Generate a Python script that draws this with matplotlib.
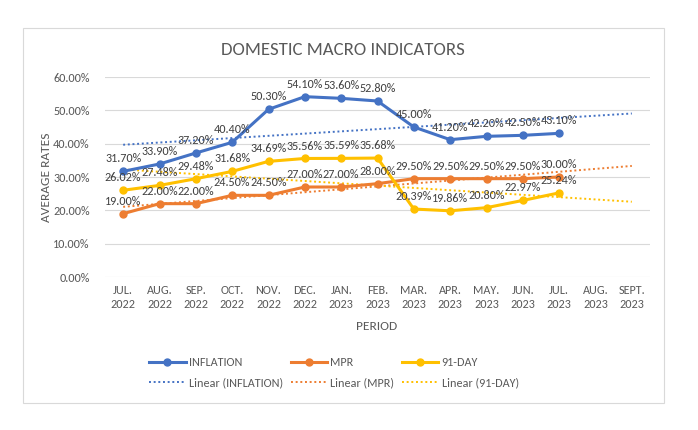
import numpy as np
import matplotlib.pyplot as plt
from matplotlib.lines import Line2D
from matplotlib.patches import Rectangle

plt.rcParams['font.family'] = ['Carlito', 'Liberation Sans', 'DejaVu Sans']

# 数据
periods = ['JUL.\n2022', 'AUG.\n2022', 'SEP.\n2022', 'OCT.\n2022', 'NOV.\n2022',
           'DEC.\n2022', 'JAN.\n2023', 'FEB.\n2023', 'MAR.\n2023', 'APR.\n2023',
           'MAY.\n2023', 'JUN.\n2023', 'JUL.\n2023', 'AUG.\n2023', 'SEPT.\n2023']
inflation = [31.70, 33.90, 37.20, 40.40, 50.30, 54.10, 53.60, 52.80, 45.00, 41.20, 42.20, 42.50, 43.10]
mpr = [19.00, 22.00, 22.00, 24.50, 24.50, 27.00, 27.00, 28.00, 29.50, 29.50, 29.50, 29.50, 30.00]
tbill_91 = [26.02, 27.48, 29.48, 31.68, 34.69, 35.56, 35.59, 35.68, 20.39, 19.86, 20.80, 22.97, 25.24]

series = [('INFLATION', inflation, '#4472C4'),
          ('MPR', mpr, '#ED7D31'),
          ('91-DAY', tbill_91, '#FFC000')]

W, H = 698, 430
fig = plt.figure(figsize=(W / 100, H / 100), dpi=100)

# 图表边框
fig.patches.append(Rectangle((23 / W, 1 - 403 / H), 641 / W, 375 / H, transform=fig.transFigure,
                             fill=False, edgecolor='#D9D9D9', lw=0.8))

ax = fig.add_axes([105 / W, 1 - 277 / H, 545 / W, 200 / H])

x_all = np.arange(len(periods))
handles = []
for name, vals, color in series:
    x = np.arange(len(vals))
    ax.plot(x, vals, color=color, lw=2.2, marker='o', markersize=5, zorder=4,
            solid_capstyle='round')
    # 线性趋势线 (向前延伸两期)
    k, b = np.polyfit(x, vals, 1)
    ax.plot(x_all, k * x_all + b, color=color, lw=1.4, linestyle=(0, (1, 1.4)), zorder=3)
    for xi, v in zip(x, vals):
        ax.annotate(f'{v:.2f}%', (xi, v), xytext=(0, 5), textcoords='offset points',
                    ha='center', va='bottom', fontsize=8.7, color='#404040', zorder=5)
    handles.append((Line2D([], [], color=color, lw=2.2, marker='o', markersize=5),
                    Line2D([], [], color=color, lw=1.4, linestyle=(0, (1, 1.4))),
                    name))

ax.set_xlim(-0.5, len(periods) - 0.5)
ax.set_ylim(0, 60)
ax.set_yticks(np.arange(0, 61, 10))
ax.set_yticklabels([f'{t:.2f}%' for t in np.arange(0, 61, 10)])
ax.set_xticks(x_all)
ax.set_xticklabels(periods, linespacing=1.3)
ax.tick_params(axis='both', length=0, labelsize=8.7, labelcolor='#595959')
ax.tick_params(axis='y', pad=11)
ax.tick_params(axis='x', pad=6)
ax.grid(axis='y', color='#D9D9D9', lw=0.8)
ax.set_axisbelow(True)
for s in ax.spines.values():
    s.set_visible(False)

fig.text(343 / W, 1 - 50 / H, 'DOMESTIC MACRO INDICATORS', ha='center', va='center',
         fontsize=13.5, color='#595959')
fig.text(47 / W, 1 - 177 / H, 'AVERAGE RATES', ha='center', va='center', rotation=90,
         fontsize=9.6, color='#595959')
fig.text(377 / W, 1 - 327 / H, 'PERIOD', ha='center', va='center', fontsize=9.6, color='#595959')

leg_handles, leg_labels = [], []
for solid, dotted, name in handles:
    leg_handles += [solid, dotted]
    leg_labels += [name, f'Linear ({name})']
fig.legend(leg_handles, leg_labels, ncol=3, loc='center', bbox_to_anchor=(334 / W, 1 - 373 / H),
           frameon=False, fontsize=8.7, labelcolor='#595959', handlelength=3.0,
           handletextpad=0.3, columnspacing=0.6, labelspacing=0.75)

plt.savefig('out.png', dpi=100)
